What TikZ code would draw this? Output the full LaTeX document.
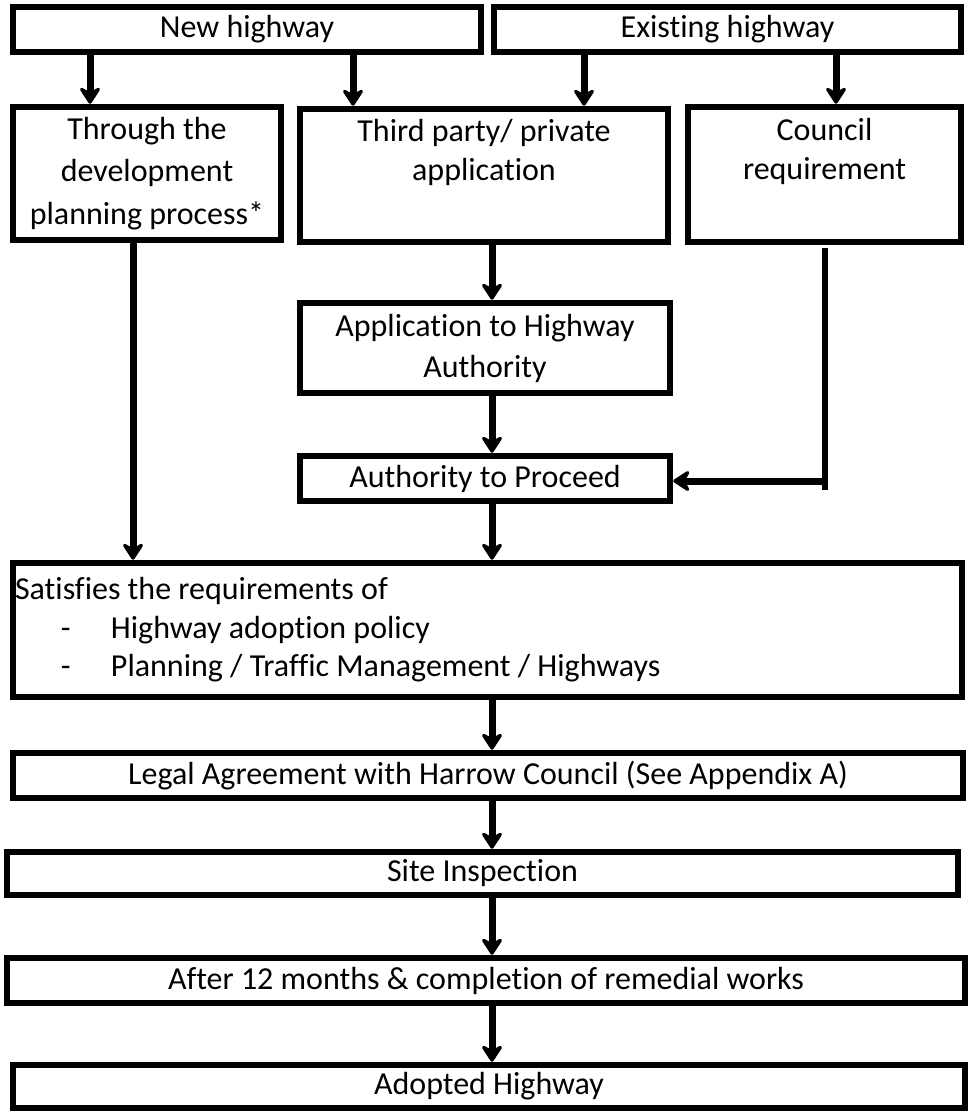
\documentclass[tikz,border=0pt]{standalone}
\usepackage{fontspec}
\setmainfont{Carlito}[Ligatures=CommonOff]
\usetikzlibrary{positioning,arrows.meta,calc}

\begin{document}
\begin{tikzpicture}[x=1pt, y=-1pt,
        box/.style={draw, line width=6.5pt, inner sep=0pt, align=center, font=\fontsize{32}{41}\selectfont},
        arr/.style={line width=7pt, -{Stealth[length=20pt, width=26pt, inset=7pt, round]}},
        link/.style={line width=6.5pt}]

        \useasboundingbox (0,0) rectangle (968,1111);

        \node[box, minimum width=468pt, minimum height=45pt] (newhw) at (247, 29.5) {New highway};
        \node[box, minimum width=467pt, minimum height=45pt] (exhw) at (727.5, 29.5) {Existing highway};

        \node[box, minimum width=268pt, minimum height=133pt, font=\fontsize{32}{42.5}\selectfont] (through) at (147, 173.5) {Through the\\development\\planning process*};
        \node[box, minimum width=368pt, minimum height=133pt, font=\fontsize{32}{39}\selectfont] (third) at (484, 175.5) {Third party/ private\\application\\\strut};
        \node[box, minimum width=273pt, minimum height=135pt, font=\fontsize{32}{39}\selectfont] (council) at (824.5, 174.5) {Council\\requirement\\\strut};

        \node[box, minimum width=370pt, minimum height=90pt] (appl) at (485, 348) {Application to Highway\\Authority};
        \node[box, minimum width=370pt, minimum height=45pt] (proceed) at (485, 478.5) {Authority to Proceed};

        \node[box, minimum width=949pt, minimum height=134pt, align=flush left, text width=945pt, inner xsep=2pt,
              font=\fontsize{32}{38.5}\selectfont] (satisfies) at (487.5, 630)
            {Satisfies the requirements of\\
             \hspace*{46pt}\makebox[50pt][l]{-}Highway adoption policy\\
             \hspace*{46pt}\makebox[50pt][l]{-}Planning / Traffic Management / Highways};

        \node[box, minimum width=950pt, minimum height=45pt] (legal) at (488, 775.5) {Legal Agreement with Harrow Council (See Appendix A)};
        \node[box, minimum width=951pt, minimum height=43pt] (site) at (482.5, 873.5) {Site Inspection};
        \node[box, minimum width=958pt, minimum height=45pt] (after) at (486, 980.5) {After 12 months \& completion of remedial works};
        \node[box, minimum width=952pt, minimum height=43pt] (adopted) at (489, 1086.5) {Adopted Highway};

        \draw[arr] (90,0 |- newhw.south) -- (90,0 |- through.north);
        \draw[arr] (353,0 |- newhw.south) -- (353,0 |- third.north);
        \draw[arr] (584,0 |- exhw.south) -- (584,0 |- third.north);
        \draw[arr] (836,0 |- exhw.south) -- (836,0 |- council.north);

        \draw[arr] (133,0 |- through.south) -- (133,0 |- satisfies.north);
        \draw[arr] (492,0 |- third.south) -- (492,0 |- appl.north);
        \draw[arr] (492,0 |- appl.south) -- (492,0 |- proceed.north);
        \draw[arr] (492,0 |- proceed.south) -- (492,0 |- satisfies.north);

        \coordinate (ctop) at (825, 248);
        \coordinate (cbot) at (825, 490);
        \coordinate (cturn) at (825, 481);
        \draw[link] (ctop) -- (cbot);
        \draw[arr] (cturn) -- (cturn -| proceed.east);

        \draw[arr] (492,0 |- satisfies.south) -- (492,0 |- legal.north);
        \draw[arr] (492,0 |- legal.south) -- (492,0 |- site.north);
        \draw[arr] (492,0 |- site.south) -- (492,0 |- after.north);
        \draw[arr] (492,0 |- after.south) -- (492,0 |- adopted.north);

    \end{tikzpicture}
\end{document}
